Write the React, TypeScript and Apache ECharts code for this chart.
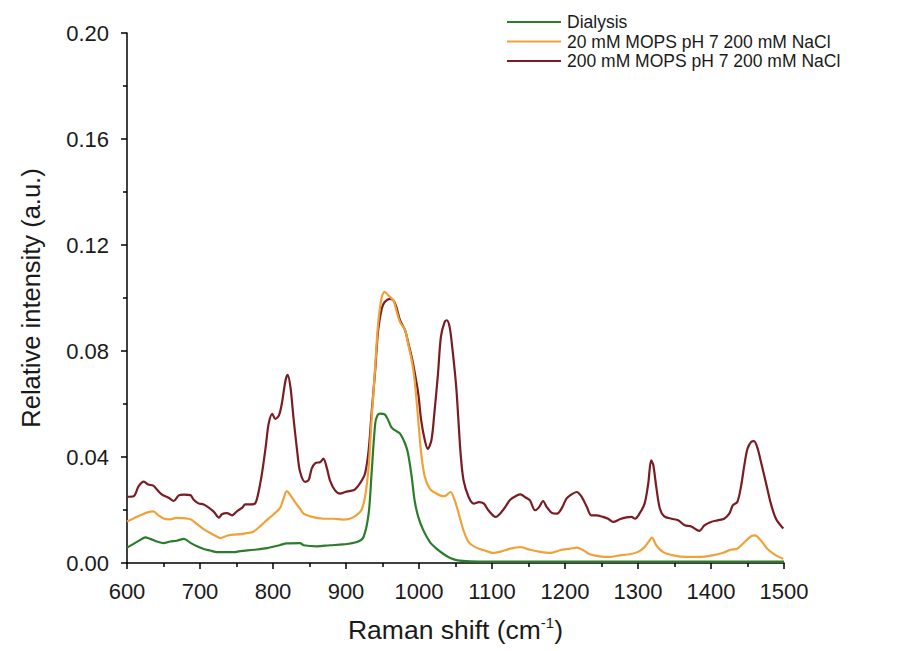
import React, { useEffect, useRef } from "react";
import * as echarts from "echarts";

const seriesNames = [
  "Dialysis",
  "20 mM MOPS pH 7 200 mM NaCl",
  "200 mM MOPS pH 7 200 mM NaCl",
];

const dialysisX = [600, 609, 618, 625, 632, 641, 650, 659, 668, 678, 687, 696, 705, 714, 723, 737, 746, 755, 774, 792, 810, 819, 837, 842, 860, 878, 896, 915, 924, 931, 935, 940, 943, 947, 953, 958, 962, 967, 974, 981, 985, 990, 994, 999, 1006, 1015, 1024, 1033, 1042, 1053, 1070, 1100, 1150, 1200, 1250, 1300, 1350, 1400, 1450, 1500];
const dialysisY = [0.0058, 0.0072, 0.0087, 0.0097, 0.0091, 0.0081, 0.0075, 0.0081, 0.0084, 0.0091, 0.0076, 0.0063, 0.0053, 0.0047, 0.0041, 0.0041, 0.0041, 0.0045, 0.005, 0.0056, 0.0068, 0.0074, 0.0075, 0.0067, 0.0063, 0.0067, 0.007, 0.0079, 0.0098, 0.0186, 0.0337, 0.0526, 0.0557, 0.0564, 0.0561, 0.0538, 0.0513, 0.0501, 0.0488, 0.045, 0.0413, 0.0325, 0.0236, 0.0174, 0.0123, 0.0079, 0.0054, 0.0035, 0.002, 0.001, 0.0006, 0.0005, 0.0005, 0.0005, 0.0005, 0.0005, 0.0005, 0.0005, 0.0005, 0.0005];

const mops20X = [600, 609, 618, 627, 636, 643, 650, 659, 668, 678, 687, 696, 705, 714, 723, 728, 737, 746, 755, 764, 773, 783, 792, 801, 810, 814, 819, 824, 831, 837, 842, 851, 860, 869, 883, 896, 905, 914, 921, 926, 931, 935, 940, 944, 949, 953, 958, 965, 969, 974, 981, 985, 990, 994, 999, 1003, 1008, 1015, 1024, 1033, 1037, 1043, 1049, 1054, 1061, 1068, 1077, 1089, 1102, 1114, 1125, 1139, 1152, 1166, 1180, 1193, 1207, 1216, 1225, 1234, 1248, 1261, 1275, 1289, 1300, 1309, 1316, 1319, 1325, 1334, 1348, 1366, 1384, 1402, 1416, 1427, 1436, 1446, 1455, 1460, 1468, 1477, 1489, 1499];
const mops20Y = [0.0157, 0.0168, 0.018, 0.019, 0.0195, 0.018, 0.0168, 0.0165, 0.017, 0.0169, 0.0165, 0.0147, 0.0128, 0.0113, 0.01, 0.0094, 0.0103, 0.0107, 0.0109, 0.0113, 0.0118, 0.014, 0.0163, 0.0184, 0.0209, 0.024, 0.0271, 0.0255, 0.0227, 0.0205, 0.0186, 0.0176, 0.017, 0.0167, 0.0167, 0.0164, 0.0167, 0.018, 0.0199, 0.0249, 0.0362, 0.0538, 0.074, 0.0903, 0.1004, 0.1023, 0.101, 0.0991, 0.0953, 0.0909, 0.0878, 0.0828, 0.0765, 0.069, 0.0538, 0.0413, 0.0325, 0.028, 0.0262, 0.0252, 0.0255, 0.0268, 0.0236, 0.019, 0.0123, 0.0079, 0.006, 0.0048, 0.0038, 0.0045, 0.0054, 0.006, 0.005, 0.0042, 0.0038, 0.0048, 0.0054, 0.0058, 0.0048, 0.0033, 0.0025, 0.0023, 0.0029, 0.0033, 0.0042, 0.006, 0.0086, 0.0096, 0.0067, 0.0042, 0.0029, 0.0023, 0.0023, 0.0029, 0.0038, 0.005, 0.0054, 0.0079, 0.0101, 0.0104, 0.0086, 0.0054, 0.0029, 0.0016];

const mops200X = [600, 609, 616, 623, 629, 636, 641, 648, 657, 664, 671, 678, 687, 691, 698, 705, 712, 719, 726, 730, 737, 744, 751, 758, 762, 771, 776, 780, 785, 790, 794, 799, 803, 808, 812, 817, 820, 824, 828, 833, 837, 844, 849, 853, 858, 865, 869, 874, 878, 885, 892, 899, 906, 912, 919, 926, 931, 935, 940, 944, 949, 953, 960, 965, 969, 974, 981, 985, 990, 994, 999, 1003, 1008, 1012, 1017, 1021, 1026, 1030, 1035, 1038, 1042, 1046, 1051, 1054, 1057, 1061, 1068, 1075, 1082, 1089, 1095, 1105, 1111, 1118, 1125, 1134, 1139, 1146, 1152, 1159, 1164, 1170, 1175, 1182, 1189, 1196, 1202, 1209, 1216, 1223, 1230, 1236, 1243, 1252, 1259, 1266, 1275, 1284, 1291, 1296, 1302, 1309, 1314, 1318, 1321, 1325, 1330, 1336, 1346, 1355, 1364, 1373, 1384, 1391, 1400, 1409, 1418, 1425, 1430, 1436, 1441, 1446, 1450, 1455, 1459, 1464, 1468, 1475, 1482, 1489, 1499];
const mops200Y = [0.025, 0.0252, 0.029, 0.0307, 0.0296, 0.0292, 0.0277, 0.0258, 0.0246, 0.0234, 0.0255, 0.0258, 0.0256, 0.024, 0.0225, 0.0221, 0.0209, 0.0193, 0.0171, 0.0184, 0.0188, 0.018, 0.0196, 0.0209, 0.0221, 0.0221, 0.0227, 0.0265, 0.034, 0.0438, 0.0525, 0.0563, 0.0544, 0.0556, 0.06, 0.0687, 0.071, 0.0662, 0.055, 0.0425, 0.0345, 0.0306, 0.0314, 0.0356, 0.0377, 0.0381, 0.0394, 0.0356, 0.0312, 0.0274, 0.0262, 0.0268, 0.0272, 0.0277, 0.03, 0.0337, 0.0425, 0.0564, 0.0727, 0.0878, 0.096, 0.0985, 0.0997, 0.0991, 0.0966, 0.0916, 0.0878, 0.0834, 0.0777, 0.0721, 0.0639, 0.0538, 0.0463, 0.0431, 0.0463, 0.0564, 0.0714, 0.0853, 0.0909, 0.0916, 0.089, 0.0803, 0.0664, 0.0538, 0.0413, 0.0312, 0.0249, 0.0224, 0.023, 0.0224, 0.0199, 0.0174, 0.0186, 0.0211, 0.0239, 0.0255, 0.0259, 0.0247, 0.0236, 0.0199, 0.0209, 0.0234, 0.0211, 0.0189, 0.0186, 0.0209, 0.0243, 0.0259, 0.0268, 0.0249, 0.0211, 0.018, 0.018, 0.0174, 0.0167, 0.0155, 0.0165, 0.0172, 0.0174, 0.0167, 0.0186, 0.0224, 0.0299, 0.0387, 0.0369, 0.0287, 0.0205, 0.0176, 0.0167, 0.0161, 0.0142, 0.0138, 0.0121, 0.0142, 0.0155, 0.0161, 0.0167, 0.0186, 0.0218, 0.023, 0.0287, 0.0375, 0.0431, 0.0457, 0.046, 0.0431, 0.0387, 0.0306, 0.0224, 0.0167, 0.013];

const colors = ["#2b7d2b", "#f0a23a", "#7a1c22"];
const FONT = "'Liberation Sans', Arial, Helvetica, sans-serif";

function pairs(xs: number[], ys: number[]) {
  return xs.map((x, i) => [x, ys[i]]);
}

export default function App() {
  const ref = useRef<HTMLDivElement>(null);
  useEffect(() => {
    if (!ref.current) return;
    const chart = echarts.init(ref.current, undefined, { renderer: "svg" });
    const seriesData = [
      pairs(dialysisX, dialysisY),
      pairs(mops20X, mops20Y),
      pairs(mops200X, mops200Y),
    ];
    chart.setOption({
      animation: false,
      backgroundColor: "#ffffff",
      color: colors,
      grid: { left: 127, right: 134, top: 33, bottom: 88, containLabel: false },
      legend: {
        orient: "vertical",
        left: 502,
        top: 8,
        itemWidth: 54,
        itemHeight: 20,
        itemGap: 1.5,
        icon: "path://M0,9 L54,9 L54,11 L0,11 Z",
        textStyle: { fontFamily: FONT, fontSize: 17.5, color: "#1a1a1a", padding: [0, 0, 0, 1] },
        data: seriesNames,
      },
      xAxis: {
        type: "value",
        min: 600,
        max: 1500,
        interval: 100,
        name: "{a|Raman shift (cm}{b|-1}{a|)}",
        nameLocation: "middle",
        nameGap: 52,
        nameTextStyle: {
          rich: {
            a: { fontFamily: FONT, fontSize: 26.5, color: "#1a1a1a", lineHeight: 30 },
            b: { fontFamily: FONT, fontSize: 15, color: "#1a1a1a", lineHeight: 30, verticalAlign: "top", padding: [0, 0, 14, 0] },
          },
        },
        axisLine: { show: true, lineStyle: { color: "#000", width: 1.5 } },
        axisTick: { show: true, inside: false, length: 6, lineStyle: { color: "#000", width: 1.5 } },
        minorTick: { show: true, splitNumber: 2, length: 4, lineStyle: { color: "#000", width: 1.5 } },
        axisLabel: {
          fontFamily: FONT,
          fontSize: 22,
          color: "#1a1a1a",
          margin: 17,
          formatter: (v: number) => String(v),
        },
        splitLine: { show: false },
      },
      yAxis: {
        type: "value",
        min: 0,
        max: 0.2,
        interval: 0.04,
        name: "Relative intensity (a.u.)",
        nameLocation: "middle",
        nameGap: 82,
        nameTextStyle: { fontFamily: FONT, fontSize: 25.5, color: "#1a1a1a", lineHeight: 28 },
        axisLine: { show: true, lineStyle: { color: "#000", width: 1.5 } },
        axisTick: { show: true, inside: false, length: 6, lineStyle: { color: "#000", width: 1.5 } },
        minorTick: { show: true, splitNumber: 2, length: 4, lineStyle: { color: "#000", width: 1.5 } },
        axisLabel: {
          fontFamily: FONT,
          fontSize: 22,
          color: "#1a1a1a",
          margin: 18,
          formatter: (v: number) => v.toFixed(2),
        },
        splitLine: { show: false },
      },
      series: seriesNames.map((name, i) => ({
        name,
        type: "line",
        data: seriesData[i],
        symbol: "none",
        showSymbol: false,
        smooth: 0.3,
        z: i === 0 ? 4 : i === 1 ? 3 : 2,
        lineStyle: { width: 2.2, color: colors[i] },
        itemStyle: { color: colors[i] },
      })),
    });
    return () => chart.dispose();
  }, []);
  return (
    <div
      ref={ref}
      style={{ position: "absolute", left: 0, top: 0, width: 918, height: 651, background: "#fff" }}
    />
  );
}
